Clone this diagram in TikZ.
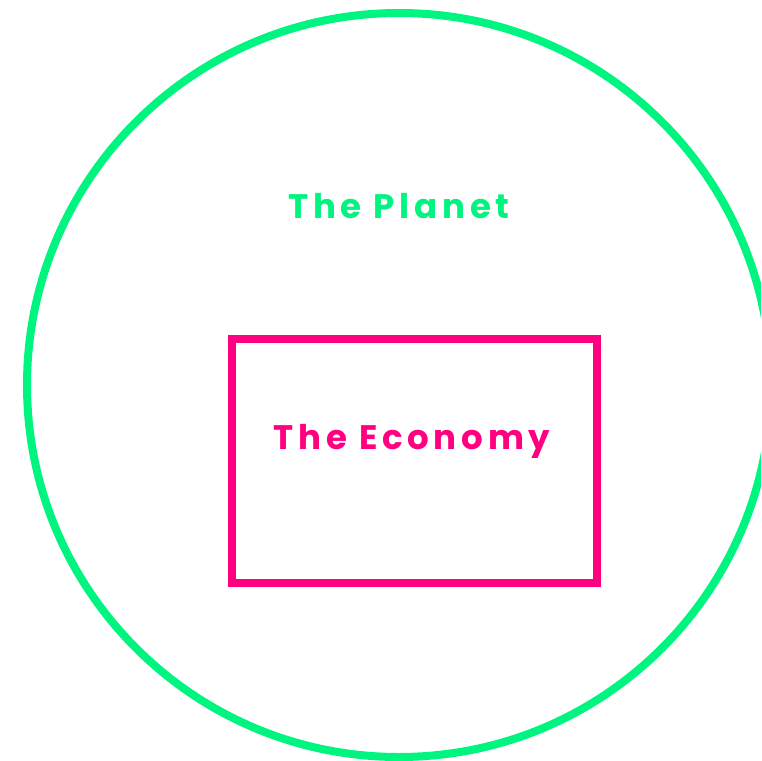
\documentclass[tikz,border=0pt]{standalone}
\usepackage{fontspec}
\newfontfamily\labelfont[LetterSpace=14]{Poppins}
\definecolor{planetgreen}{RGB}{0,245,128}
\definecolor{economypink}{RGB}{255,0,128}
\tikzset{
    labeltext/.style={font=\labelfont\bfseries\fontsize{34}{40}\selectfont, anchor=base, inner sep=0pt}
}
\begin{document}
\begin{tikzpicture}[x=1pt, y=-1pt]
        \useasboundingbox (0,0) rectangle (761,761);
        \clip (0,0) rectangle (761,761);

        \begin{scope}[every node/.style={draw, line width=8pt, inner sep=0pt}]
            \node[circle, draw=planetgreen, minimum size=744pt] (planet) at (399,385) {};
            \node[rectangle, draw=economypink, minimum width=365pt, minimum height=244pt] (economy) at (414.5,461) {};
        \end{scope}

        \node[labeltext, text=planetgreen] (planetlabel) at (399,218) {The Planet};
        \node[labeltext, text=economypink] (economylabel) at (412,449) {The Economy};
    \end{tikzpicture}
\end{document}
